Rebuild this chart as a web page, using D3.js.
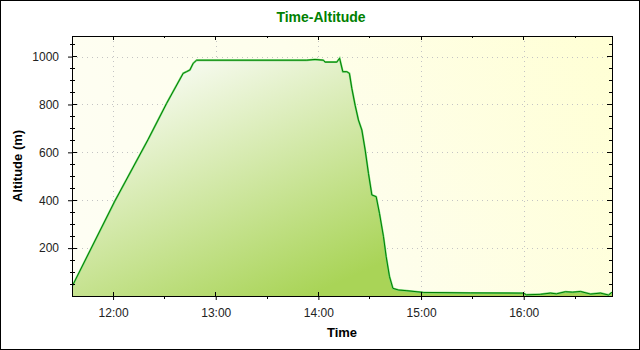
<!DOCTYPE html>
<html><head><meta charset="utf-8">
<script src="https://cdn.jsdelivr.net/npm/d3@7"></script>
<style>
html,body{margin:0;padding:0;background:#fff;}
svg{display:block;font-family:"Liberation Sans",Arial,sans-serif;}
</style></head>
<body>
<script>
const times = ["11:36:00","12:01:00","12:20:29","12:31:15","12:40:58","12:42:58","12:44:54","12:46:50","12:48:49","13:53:12","13:58:04","14:02:55","14:03:55","14:10:46","14:12:24","14:14:16","14:16:37","14:18:08","14:19:33","14:21:28","14:23:24","14:25:24","14:27:20","14:29:16","14:31:15","14:33:46","14:35:42","14:38:02","14:39:37","14:41:33","14:43:32","14:46:49","14:51:44","15:01:17","15:28:47","15:59:49","16:01:34","16:09:45","16:15:37","16:19:08","16:24:24","16:28:30","16:33:10","16:39:02","16:44:53","16:49:34","16:51:36"];
const altitudes = [39,396,654,804,930,937,944,972,985,985,988,985,977,977,993,937,937,930,867,797,735,693,610,512,422,415,345,248,164,81,32,25,22,15,13,12,5,7,12,9,18,16,19,8,12,4,16];
const xDomain = ["11:36:00","16:51:36"];
const xMajorTicks = ["12:00:00","13:00:00","14:00:00","15:00:00","16:00:00"];
const xMinorTicks = ["12:30:00","13:30:00","14:30:00","15:30:00","16:30:00"];
const yDomain = [0,1086];
const yMajorTicks = [200,400,600,800,1000];
const yMinorTicks = [50,100,150,250,300,350,450,500,550,650,700,750,850,900,950,1050];
const chartTitle = "Time-Altitude";
const xTitle = "Time";
const yTitle = "Altitude (m)";

const parse = d3.timeParse("%H:%M:%S");
const data = times.map((t,i)=>({t:parse(t), a:altitudes[i]}));

const W=640,H=350, L=72, T=36, R=612, B=296;
const svg = d3.select("body").append("svg").attr("width",W).attr("height",H);
const defs = svg.append("defs");

const bg = defs.append("linearGradient").attr("id","bg").attr("gradientUnits","userSpaceOnUse")
  .attr("x1",L).attr("y1",B).attr("x2",R).attr("y2",T);
bg.append("stop").attr("offset",0).attr("stop-color","#fefef4");
bg.append("stop").attr("offset",0.5).attr("stop-color","#fefeec");
bg.append("stop").attr("offset",1).attr("stop-color","#ffffd4");

const ag = defs.append("linearGradient").attr("id","ag").attr("gradientUnits","userSpaceOnUse")
  .attr("x1",190).attr("y1",55).attr("x2",300).attr("y2",300);
ag.append("stop").attr("offset",0).attr("stop-color","#f8fbf2");
ag.append("stop").attr("offset",1).attr("stop-color","#a9d457");

svg.append("rect").attr("x",0.5).attr("y",0.5).attr("width",W-1).attr("height",H-1)
  .attr("fill","#fff").attr("stroke","#000");

const x = d3.scaleTime().domain(xDomain.map(parse)).range([L,R]);
const y = d3.scaleLinear().domain(yDomain).range([B,T]);

svg.append("rect").attr("x",L).attr("y",T).attr("width",R-L).attr("height",B-T).attr("fill","url(#bg)");

// grid
const g = svg.append("g").attr("stroke","#c4c4c4").attr("stroke-dasharray","1,4");
g.selectAll(".gx").data(xMajorTicks.map(parse)).join("line")
  .attr("x1",d=>Math.round(x(d))+0.5).attr("x2",d=>Math.round(x(d))+0.5).attr("y1",T).attr("y2",B);
g.selectAll(".gy").data(yMajorTicks).join("line")
  .attr("y1",d=>Math.round(y(d))+0.5).attr("y2",d=>Math.round(y(d))+0.5).attr("x1",L).attr("x2",R);

// area + line
defs.append("clipPath").attr("id","clip").append("rect").attr("x",L).attr("y",T).attr("width",R-L).attr("height",B-T);
const area = d3.area().x(d=>x(d.t)).y0(B).y1(d=>y(d.a));
const line = d3.line().x(d=>x(d.t)).y(d=>y(d.a));
const pg = svg.append("g").attr("clip-path","url(#clip)");
pg.append("path").datum(data).attr("d",area).attr("fill","url(#ag)");
pg.append("path").datum(data).attr("d",line).attr("fill","none").attr("stroke","#70d470").attr("stroke-width",2);
pg.append("path").datum(data).attr("d",line).attr("fill","none").attr("stroke","#008000").attr("stroke-width",1);

// axes frame
const ax = svg.append("g").attr("stroke","#000").attr("shape-rendering","crispEdges");
ax.append("rect").attr("x",L).attr("y",T).attr("width",R-L).attr("height",B-T).attr("fill","none");

// left axis
const left = svg.append("g").attr("transform",`translate(${L},0)`)
  .call(d3.axisLeft(y).tickValues(yMajorTicks).tickFormat(d3.format("d")).tickSize(4).tickPadding(9));
left.select(".domain").remove();
left.selectAll("text").attr("font-size",12).attr("fill","#222").attr("font-family","Liberation Sans, Arial, sans-serif");
ax.selectAll(".lmj").data(yMajorTicks).join("line").attr("x1",L).attr("x2",L+5).attr("y1",d=>y(d)).attr("y2",d=>y(d));
ax.selectAll(".lmn").data(yMinorTicks).join("line").attr("x1",L-2).attr("x2",L+3).attr("y1",d=>y(d)).attr("y2",d=>y(d));
// right axis
ax.selectAll(".rmj").data(yMajorTicks).join("line").attr("x1",R-5).attr("x2",R).attr("y1",d=>y(d)).attr("y2",d=>y(d));
ax.selectAll(".rmn").data(yMinorTicks).join("line").attr("x1",R-3).attr("x2",R).attr("y1",d=>y(d)).attr("y2",d=>y(d));

// bottom axis
const bottom = svg.append("g").attr("transform",`translate(0,${B})`)
  .call(d3.axisBottom(x).tickValues(xMajorTicks.map(parse)).tickFormat(d3.timeFormat("%H:%M")).tickSize(4).tickPadding(8.5));
bottom.select(".domain").remove();
bottom.selectAll("text").attr("font-size",12).attr("fill","#222").attr("font-family","Liberation Sans, Arial, sans-serif");
ax.selectAll(".bmj").data(xMajorTicks.map(parse)).join("line").attr("x1",d=>x(d)).attr("x2",d=>x(d)).attr("y1",B-4).attr("y2",B);
ax.selectAll(".bmn").data(xMinorTicks.map(parse)).join("line").attr("x1",d=>x(d)).attr("x2",d=>x(d)).attr("y1",B).attr("y2",B+3);
// top axis
ax.selectAll(".tmj").data(xMajorTicks.map(parse)).join("line").attr("x1",d=>x(d)).attr("x2",d=>x(d)).attr("y1",T).attr("y2",T+4);
ax.selectAll(".tmn").data(xMinorTicks.map(parse)).join("line").attr("x1",d=>x(d)).attr("x2",d=>x(d)).attr("y1",T).attr("y2",T+2);

// titles
svg.append("text").attr("x",321).attr("y",22).attr("text-anchor","middle")
  .attr("font-size",14).attr("font-weight","bold").attr("fill","#008000").text(chartTitle);
svg.append("text").attr("x",(L+R)/2).attr("y",337).attr("text-anchor","middle")
  .attr("font-size",13).attr("font-weight","bold").attr("fill","#000").text(xTitle);
svg.append("text").attr("transform",`translate(21.5,${(T+B)/2}) rotate(-90)`).attr("text-anchor","middle")
  .attr("font-size",13).attr("font-weight","bold").attr("fill","#000").text(yTitle);
</script>
</body></html>
